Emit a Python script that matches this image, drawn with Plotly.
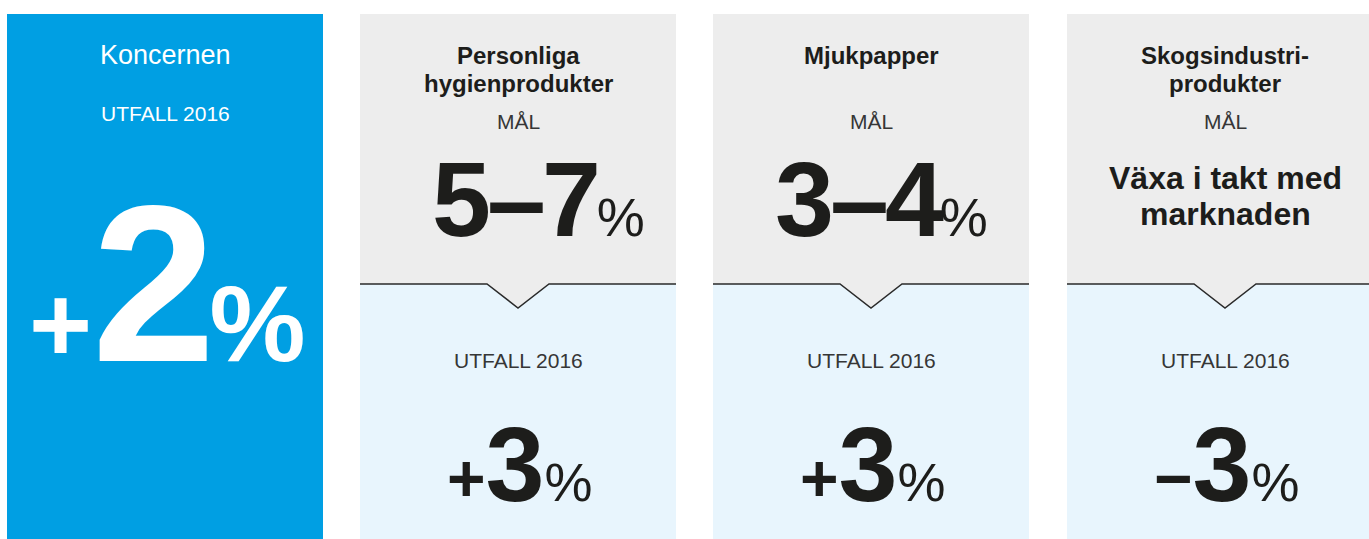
import plotly.graph_objects as go

# ---- data ----
group_label = "Koncernen"
outcome_label = "UTFALL 2016"
target_label = "MÅL"
group_outcome = "+2"
segments = ["Personliga<br>hygienprodukter", "Mjukpapper", "Skogsindustri-<br>produkter"]
targets = ["5–7", "3–4", "Växa i takt med<br>marknaden"]
target_is_pct = [True, True, False]
outcome_signs = ["+", "+", "−"]
outcome_values = ["3", "3", "3"]

# ---- style / layout constants ----
W, H = 1369, 539
BLUE = "#009FE3"
GRAY = "#EDEDED"
LIGHT = "#E8F5FD"
DARK = "#1D1D1B"
MID = "#363636"
FONT = "Liberation Sans, Arial, Helvetica, sans-serif"
TOP = 14
PANEL_W = 316
panel_lefts = [360, 713, 1067]
target_dx = [20, 10, 0]
blue_left, blue_right = 7, 323
div_y = 284
notch_hw, notch_d = 31, 24

fig = go.Figure()
shapes = []
ann = []

def add_text(x, y, text, size, color, yanchor="middle"):
    ann.append(dict(x=x, y=y, xref="x", yref="y", text=text, showarrow=False,
                    xanchor="center", yanchor=yanchor,
                    font=dict(family=FONT, size=size, color=color)))

# blue group panel
shapes.append(dict(type="rect", x0=blue_left, x1=blue_right, y0=TOP, y1=H + 5,
                   fillcolor=BLUE, line=dict(width=0), layer="below"))
bc = (blue_left + blue_right) / 2
add_text(bc, 55, group_label, 27, "white")
add_text(bc, 113, outcome_label, 21, "white")
add_text(bc + 2, 284,
         "<b><span style='font-size:108px'>+</span>"
         "<span style='letter-spacing:-6px'>" + group_outcome[1:] + "</span>"
         "<span style='font-size:108px'>%</span></b>", 222, "white")

for i, left in enumerate(panel_lefts):
    right = left + PANEL_W
    cx = left + PANEL_W / 2
    shapes.append(dict(type="rect", x0=left, x1=right, y0=TOP, y1=H + 5,
                       fillcolor=LIGHT, line=dict(width=0), layer="below"))
    gray_path = (f"M{left},{TOP} L{right},{TOP} L{right},{div_y} L{cx + notch_hw},{div_y} "
                 f"L{cx},{div_y + notch_d} L{cx - notch_hw},{div_y} L{left},{div_y} Z")
    shapes.append(dict(type="path", path=gray_path, fillcolor=GRAY,
                       line=dict(width=0), layer="below"))
    line_path = (f"M{left},{div_y} L{cx - notch_hw},{div_y} L{cx},{div_y + notch_d} "
                 f"L{cx + notch_hw},{div_y} L{right},{div_y}")
    shapes.append(dict(type="path", path=line_path, line=dict(color="#2a2a2a", width=1.5),
                       layer="below"))

    # title lines
    for j, line in enumerate(segments[i].split("<br>")):
        add_text(cx, 55 + 28.5 * j, "<b>" + line + "</b>", 24, DARK)
    add_text(cx, 121, target_label, 21, MID)

    if target_is_pct[i]:
        add_text(cx + target_dx[i], 199,
                 "<b><span style='letter-spacing:-4px'>" + targets[i] + "</span></b>"
                 "<span style='font-size:54px'>%</span>", 106, DARK)
    else:
        for j, line in enumerate(targets[i].split("<br>")):
            add_text(cx, 178 + 36 * j, "<b>" + line + "</b>", 32, DARK)

    add_text(cx, 360, outcome_label, 21, MID)
    add_text(cx + 2, 464,
             "<b><span style='font-size:66px'>" + outcome_signs[i] + "</span>" +
             outcome_values[i] + "</b><span style='font-size:54px'>%</span>", 106, DARK)

fig.update_layout(
    width=W, height=H,
    margin=dict(l=0, r=0, t=0, b=0),
    paper_bgcolor="white", plot_bgcolor="white",
    xaxis=dict(range=[0, W], visible=False, fixedrange=True),
    yaxis=dict(range=[H, 0], visible=False, fixedrange=True),
    shapes=shapes, annotations=ann, showlegend=False,
)
fig.write_html("out.html", config={"displayModeBar": False},
               post_script="document.body.style.margin='0';document.body.style.overflow='hidden';")
